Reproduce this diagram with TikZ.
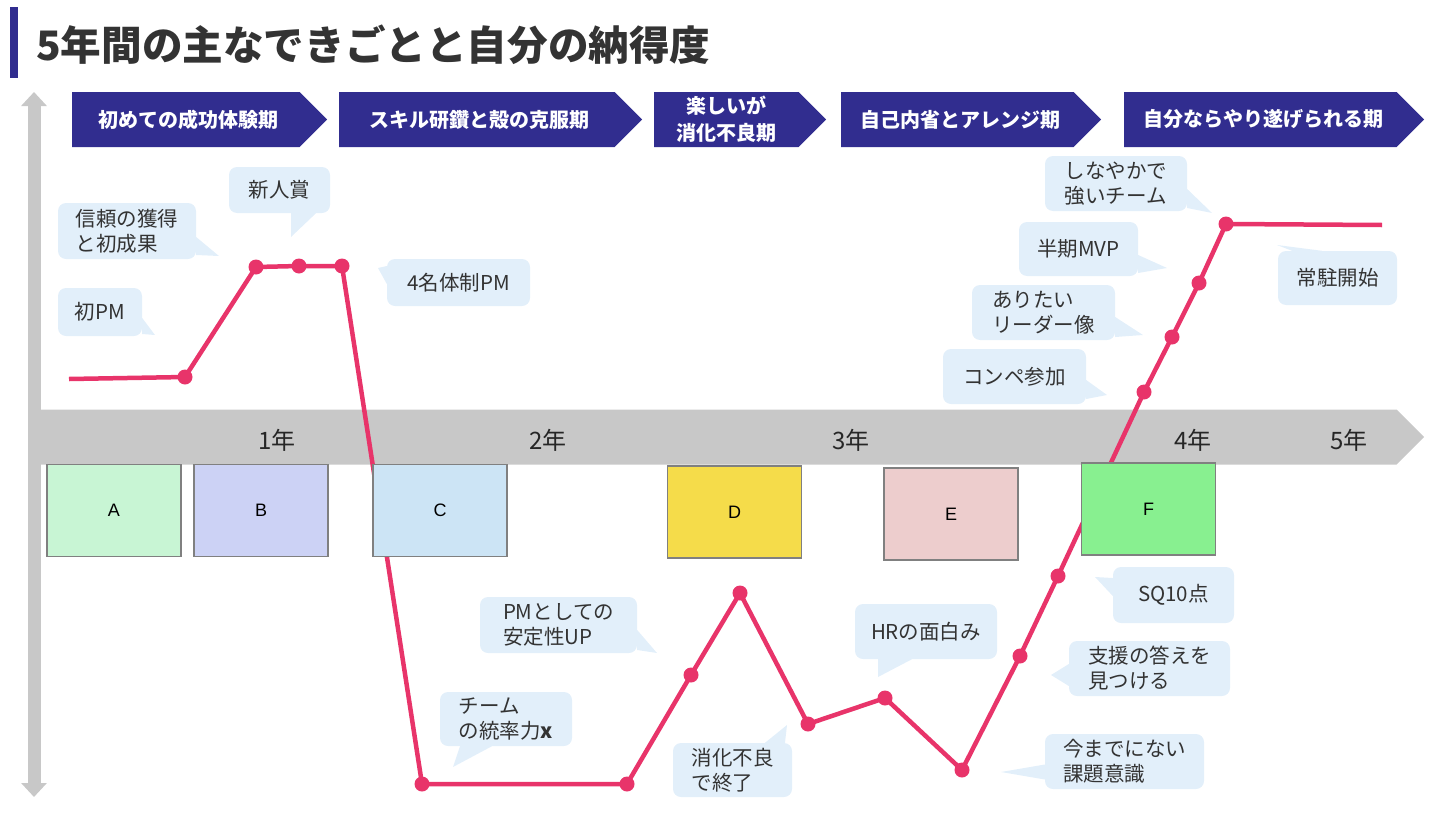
\documentclass[tikz,border=0pt]{standalone}
\usepackage{fontspec}
\setmainfont{Noto Sans CJK JP}
\newfontfamily\latinfont{Liberation Sans}
\usetikzlibrary{arrows.meta,shapes.symbols,positioning}

\definecolor{navy}{RGB}{49,45,143}
\definecolor{axisgray}{RGB}{200,200,200}
\definecolor{bubblefill}{RGB}{226,239,250}
\definecolor{curvepink}{RGB}{232,52,106}
\definecolor{txtgray}{RGB}{51,51,51}
\definecolor{fillA}{RGB}{200,245,212}
\definecolor{fillB}{RGB}{204,210,245}
\definecolor{fillC}{RGB}{204,228,245}
\definecolor{fillD}{RGB}{245,220,74}
\definecolor{fillE}{RGB}{237,205,205}
\definecolor{fillF}{RGB}{136,240,144}

\begin{document}
\begin{tikzpicture}[x=1pt, y=-1pt,
    phase/.style={signal, signal to=east, signal from=nowhere, fill=navy, text=white,
        minimum height=55pt, inner sep=0, align=center, anchor=west,
        font=\bfseries\fontsize{20}{27}\selectfont},
    block/.style={draw=black!50, line width=1.2pt, minimum width=134pt, minimum height=92pt,
        inner sep=0, font=\latinfont\fontsize{18}{20}\selectfont},
    year/.style={font=\fontsize{24}{26}\selectfont, text=black!85},
    bubble/.style={fill=bubblefill, rounded corners=8pt, inner sep=0, align=left,
        text=txtgray, font=\fontsize{20.5}{25}\selectfont},
    tail/.style={fill=bubblefill},
    curve/.style={curvepink, line width=4.5pt, line join=round}
]
\useasboundingbox (0,0) rectangle (1440,819);

\node[fill=navy, minimum width=8pt, minimum height=71pt, inner sep=0] (titlebar) at (13.5,42.5) {};
\node[anchor=west, inner sep=0, text=txtgray, font=\bfseries\fontsize{40.6}{44}\selectfont] (title) at (36,45) {5年間の主なできごとと自分の納得度};

\node[phase, minimum width=255pt] (ph1) at (72,119.5) {\hspace*{6pt}初めての成功体験期};
\node[phase, minimum width=303pt] (ph2) at (339,119.5) {\hspace*{6pt}スキル研鑽と殻の克服期};
\node[phase, minimum width=172pt] (ph3) at (654,119.5) {楽しいが\\消化不良期};
\node[phase, minimum width=260pt] (ph4) at (841,119.5) {\hspace*{6pt}自己内省とアレンジ期};
\node[phase, minimum width=300pt] (ph5) at (1124,119.5) {\hspace*{6pt}自分ならやり遂げられる期};

\coordinate (ytop) at (34,92);
\coordinate (ybot) at (34,797);
\draw[axisgray, line width=13pt, {Triangle[width=25pt,length=14pt]}-{Triangle[width=25pt,length=14pt]}] (ytop) -- (ybot);
\node[signal, signal to=east, signal from=nowhere, fill=axisgray, minimum width=1384pt,
    minimum height=55pt, inner sep=0, anchor=west] (timeline) at (40,437) {};
\node[year] (y1) at (277,440) {1年};
\node[year] (y2) at (548,440) {2年};
\node[year] (y3) at (851,440) {3年};
\node[year] (y4) at (1193,440) {4年};
\node[year] (y5) at (1349,440) {5年};

\foreach \i/\px/\py in {0/69/379, 1/185/377, 2/256/267, 3/299/266, 4/342/266, 5/422/784,
    6/627/784, 7/691/675, 8/740/593, 9/808/724, 10/885/698, 11/962/770, 12/1020/656,
    13/1058/576, 14/1144/392, 15/1172/337, 16/1199/283, 17/1226/224, 18/1382/225}
    \coordinate (p\i) at (\px,\py);
\draw[curve] (p0) \foreach \i in {1,...,18} { -- (p\i) };
\foreach \i in {1,...,17}
    \fill[curvepink] (p\i) circle (7.5pt);

\node[block, fill=fillA] (boxA) at (114,510.5) {A};
\node[block, fill=fillB] (boxB) at (261,510.5) {B};
\node[block, fill=fillC] (boxC) at (440,510.5) {C};
\node[block, fill=fillD] (boxD) at (734.5,512) {D};
\node[block, fill=fillE] (boxE) at (951,514) {E};
\node[block, fill=fillF] (boxF) at (1148.5,509) {F};

\node[bubble, minimum width=84pt, minimum height=48pt] (b1) at (100,312) {初PM};
\coordinate (t1) at (155,335);
\fill[tail] (t1) -- ([yshift=-6pt]b1.east) -- ([yshift=-22pt]b1.east) -- cycle;
\node[bubble, minimum width=138pt, minimum height=56pt] (b2) at (127,231) {信頼の獲得\\と初成果};
\coordinate (t2) at (219,256);
\fill[tail] (t2) -- ([yshift=-6pt]b2.east) -- ([yshift=-24pt]b2.east) -- cycle;
\node[bubble, minimum width=101pt, minimum height=46pt] (b3) at (279.5,190) {新人賞};
\coordinate (t3) at (291,237);
\fill[tail] (t3) -- ([xshift=11.5pt]b3.south) -- ([xshift=36.5pt]b3.south) -- cycle;
\node[bubble, minimum width=143pt, minimum height=47pt] (b4) at (458.5,282.5) {4名体制PM};
\coordinate (t4) at (378,268);
\fill[tail] (t4) -- ([yshift=16.5pt]b4.west) -- ([yshift=-1.5pt]b4.west) -- cycle;
\node[bubble, minimum width=132pt, minimum height=54pt] (b5) at (506,719) {チーム\\の統率力{\bfseries x}};
\coordinate (t5) at (453,767);
\fill[tail] (t5) -- ([xshift=-46pt]b5.south) -- ([xshift=-14pt]b5.south) -- cycle;
\node[bubble, minimum width=157pt, minimum height=56pt] (b6) at (558.5,625) {PMとしての\\安定性UP};
\coordinate (t6) at (657,653);
\fill[tail] (t6) -- ([yshift=-5pt]b6.east) -- ([yshift=-25pt]b6.east) -- cycle;
\node[bubble, minimum width=119pt, minimum height=54pt] (b7) at (732.5,770) {消化不良\\で終了};
\coordinate (t7) at (787,725);
\fill[tail] (t7) -- ([xshift=32.5pt]b7.north) -- ([xshift=52.5pt]b7.north) -- cycle;
\node[bubble, minimum width=142pt, minimum height=55pt] (b8) at (926,631.5) {HRの面白み};
\coordinate (t8) at (878,677);
\fill[tail] (t8) -- ([xshift=-48pt]b8.south) -- ([xshift=-14pt]b8.south) -- cycle;
\node[bubble, minimum width=121pt, minimum height=56pt] (b9) at (1173.5,595) {SQ10点};
\coordinate (t9) at (1095,577);
\fill[tail] (t9) -- ([yshift=17pt]b9.west) -- ([yshift=-1pt]b9.west) -- cycle;
\node[bubble, minimum width=161pt, minimum height=55pt] (b10) at (1149.5,668.5) {支援の答えを\\見つける};
\coordinate (t10) at (1051,675);
\fill[tail] (t10) -- ([yshift=4.5pt]b10.west) -- ([yshift=-17.5pt]b10.west) -- cycle;
\node[bubble, minimum width=159pt, minimum height=55pt] (b11) at (1124.5,761.5) {今までにない\\課題意識};
\coordinate (t11) at (1001,772);
\fill[tail] (t11) -- ([yshift=-3pt]b11.west) -- ([yshift=-18pt]b11.west) -- cycle;
\node[bubble, minimum width=143pt, minimum height=55pt] (b12) at (1014.5,376.5) {コンペ参加};
\coordinate (t12) at (1107,395);
\fill[tail] (t12) -- ([yshift=-3.5pt]b12.east) -- ([yshift=-22.5pt]b12.east) -- cycle;
\node[bubble, minimum width=143pt, minimum height=55pt] (b13) at (1043.5,312.5) {ありたい\\リーダー像};
\coordinate (t13) at (1143,335);
\fill[tail] (t13) -- ([yshift=-4.5pt]b13.east) -- ([yshift=-24.5pt]b13.east) -- cycle;
\node[bubble, minimum width=119pt, minimum height=54pt] (b14) at (1078.5,249) {半期MVP};
\coordinate (t14) at (1167,268);
\fill[tail] (t14) -- ([yshift=-6pt]b14.east) -- ([yshift=-24pt]b14.east) -- cycle;
\node[bubble, minimum width=142pt, minimum height=55pt] (b15) at (1116,183.5) {しなやかで\\強いチーム};
\coordinate (t15) at (1212,213);
\fill[tail] (t15) -- ([yshift=-5.5pt]b15.east) -- ([yshift=-24.5pt]b15.east) -- cycle;
\node[bubble, minimum width=119pt, minimum height=54pt] (b16) at (1337.5,278) {常駐開始};
\coordinate (t16) at (1277,245);
\fill[tail] (t16) -- ([xshift=-45.5pt]b16.north) -- ([xshift=-15.5pt]b16.north) -- cycle;
\end{tikzpicture}
\end{document}
